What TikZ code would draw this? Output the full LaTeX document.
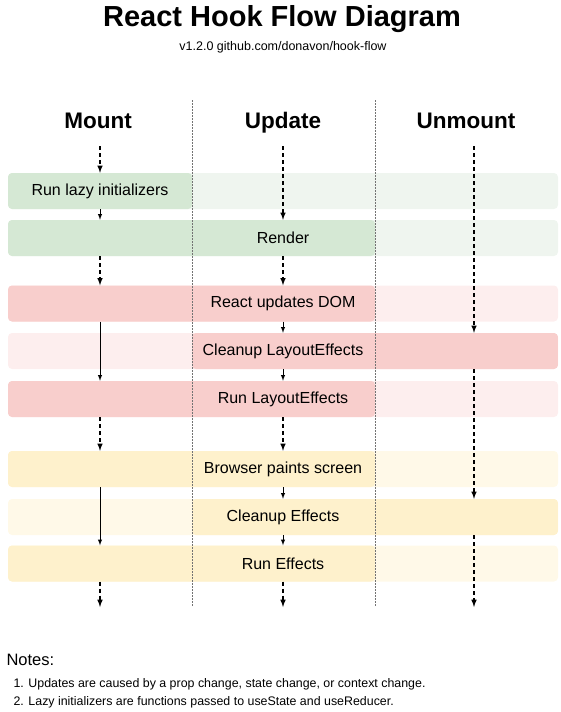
\documentclass[tikz,border=0pt]{standalone}
\usepackage{fontspec}
\setmainfont{Liberation Sans}
\newlength{\du}
\setlength{\du}{1pt}
\definecolor{greensolid}{rgb}{0.835000, 0.910000, 0.831000}
\definecolor{greenfade}{rgb}{0.937000, 0.961000, 0.937000}
\definecolor{redsolid}{rgb}{0.973000, 0.808000, 0.800000}
\definecolor{redfade}{rgb}{0.992000, 0.933000, 0.933000}
\definecolor{yellowsolid}{rgb}{0.996000, 0.945000, 0.800000}
\definecolor{yellowfade}{rgb}{1.000000, 0.976000, 0.910000}
\definecolor{dividercolor}{rgb}{0.450000, 0.450000, 0.450000}
\tikzset{
  rowband/.style={rounded corners=4\du, minimum width=550\du, minimum height=36\du,
    inner sep=0pt, font=\fontsize{16}{19}\selectfont},
  leftsolid/.style 2 args={path picture={\fill[#1] (path picture bounding box.north west)
    rectangle (path picture bounding box.south -| #2);}},
  rightsolid/.style={path picture={\fill[#1] (path picture bounding box.north east)
    rectangle (path picture bounding box.south -| divA);}},
  colhead/.style={anchor=base, font=\bfseries\fontsize{22.5}{26}\selectfont},
  solidarrow/.style={-latex, line width=1\du},
  dasharrow/.style={-latex, line width=1.5\du, dash pattern=on 4\du off 3\du},
  divider/.style={line width=0.8\du, draw=dividercolor, dash pattern=on 1.5\du off 1.5\du},
  notetext/.style={anchor=west, font=\fontsize{12.4}{15}\selectfont},
}

\begin{document}
\begin{tikzpicture}
\pgftransformxscale{1.000000}
\pgftransformyscale{-1.000000}
\useasboundingbox (0\du,0\du) rectangle (560\du,712\du);
% title
\node[anchor=base] (title) at (282\du,26\du){\bfseries\fontsize{29}{34}\selectfont React Hook Flow Diagram};
\node[anchor=base] (subtitle) at (283\du,50\du){\fontsize{12.5}{15}\selectfont v1.2.0 github.com/donavon/hook-flow};
% columns
\coordinate (divA) at (192\du,100\du);
\coordinate (divB) at (375\du,100\du);
\coordinate (colM) at (100\du,146\du);
\coordinate (colU) at (283\du,146\du);
\coordinate (colX) at (474\du,146\du);
\coordinate (endM) at (100\du,607\du);
\coordinate (endU) at (283\du,607\du);
\coordinate (endX) at (474\du,607\du);
\node[colhead] (mount) at (98\du,128.5\du){Mount};
\node[colhead] (update) at (283\du,128.5\du){Update};
\node[colhead] (unmount) at (466\du,128.5\du){Unmount};
% rows
\node[rowband, fill=greenfade, leftsolid={greensolid}{divA}] (lazy) at (283\du,191\du){};
\node (lazyText) at (lazy.center -| colM){\fontsize{16}{19}\selectfont Run lazy initializers};
\node[rowband, fill=greenfade, leftsolid={greensolid}{divB}] (render) at (283\du,238\du){Render};
\node[rowband, fill=redfade, leftsolid={redsolid}{divB}] (dom) at (283\du,303.5\du){React updates DOM};
\node[rowband, fill=redfade, rightsolid={redsolid}] (cleanLayout) at (283\du,351\du){Cleanup LayoutEffects};
\node[rowband, fill=redfade, leftsolid={redsolid}{divB}] (runLayout) at (283\du,399\du){Run LayoutEffects};
\node[rowband, fill=yellowfade, leftsolid={yellowsolid}{divB}] (paint) at (283\du,469\du){Browser paints screen};
\node[rowband, fill=yellowfade, rightsolid={yellowsolid}] (cleanEffects) at (283\du,517\du){Cleanup Effects};
\node[rowband, fill=yellowfade, leftsolid={yellowsolid}{divB}] (runEffects) at (283\du,563.5\du){Run Effects};
% dividers
\draw[divider] (divA) -- (divA |- endM) ++(0,-5\du);
\draw[divider] (divB) -- (divB |- endU) ++(0,-5\du);
% mount
\draw[dasharrow] (colM) -- (lazy.north -| colM);
\draw[solidarrow] (lazy.south -| colM) -- (render.north -| colM);
\draw[dasharrow] (render.south -| colM) -- (dom.north -| colM);
\draw[solidarrow] (dom.south -| colM) -- (runLayout.north -| colM);
\draw[dasharrow] (runLayout.south -| colM) -- (paint.north -| colM);
\draw[solidarrow] (paint.south -| colM) -- (runEffects.north -| colM);
\draw[dasharrow] (runEffects.south -| colM) -- (endM);
% update
\draw[dasharrow] (colU) -- (render.north -| colU);
\draw[dasharrow] (render.south -| colU) -- (dom.north -| colU);
\draw[solidarrow] (dom.south -| colU) -- (cleanLayout.north -| colU);
\draw[solidarrow] (cleanLayout.south -| colU) -- (runLayout.north -| colU);
\draw[dasharrow] (runLayout.south -| colU) -- (paint.north -| colU);
\draw[solidarrow] (paint.south -| colU) -- (cleanEffects.north -| colU);
\draw[solidarrow] (cleanEffects.south -| colU) -- (runEffects.north -| colU);
\draw[dasharrow] (runEffects.south -| colU) -- (endU);
% unmount
\draw[dasharrow] (colX) -- (cleanLayout.north -| colX);
\draw[dasharrow] (cleanLayout.south -| colX) -- (cleanEffects.north -| colX);
\draw[dasharrow] (cleanEffects.south -| colX) -- (endX);
% notes
\node[anchor=west] (notes) at (3\du,660\du){\fontsize{16.5}{20}\selectfont Notes:};
\node[notetext] (noteOne) at (10\du,684\du){1. Updates are caused by a prop change, state change, or context change.};
\node[notetext] (noteTwo) at (10\du,702\du){2. Lazy initializers are functions passed to useState and useReducer.};
\end{tikzpicture}
\end{document}
